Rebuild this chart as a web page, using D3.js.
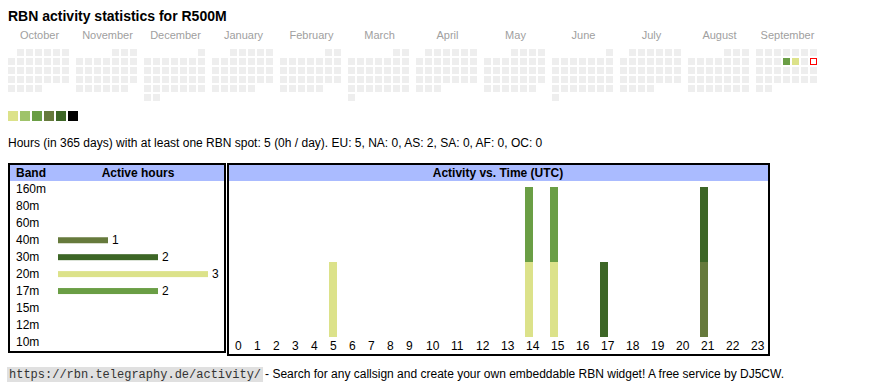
<!DOCTYPE html>
<html>
<head>
<meta charset="utf-8">
<script src="https://cdn.jsdelivr.net/npm/d3@7"></script>
<style>
  body { margin: 0; background: #fff; }
  text { font-family: "Liberation Sans", Arial, sans-serif; }
</style>
</head>
<body>
<div id="chart"></div>
<script>
const TITLE = 'RBN activity statistics for R500M';
const months = ['October', 'November', 'December', 'January', 'February', 'March',
  'April', 'May', 'June', 'July', 'August', 'September'];
const activeDays = ['2025-09-11', '2025-09-12'];
const activeDayHours = [4, 1];
const today = '2025-09-14';
const levelColors = ['#dce28a', '#9fc36a', '#6a9e45', '#667a3c', '#3d6626', '#000000'];
const summary = 'Hours (in 365 days) with at least one RBN spot: 5 (0h / day). EU: 5, NA: 0, AS: 2, SA: 0, AF: 0, OC: 0';

const bands = ['160m', '80m', '60m', '40m', '30m', '20m', '17m', '15m', '12m', '10m'];
const bandHours = [0, 0, 0, 1, 2, 3, 2, 0, 0, 0];
const hourLabels = ['0', '1', '2', '3', '4', '5', '6', '7', '8', '9', '10', '11',
  '12', '13', '14', '15', '16', '17', '18', '19', '20', '21', '22', '23'];
// UTC hours with spots, per band
const hours40m = [21];
const hours30m = [17, 21];
const hours20m = [5, 14, 15];
const hours17m = [14, 15];

const footerUrl = 'https://rbn.telegraphy.de/activity/';
const footerText = '- Search for any callsign and create your own embeddable RBN widget! A free service by DJ5CW.';

const svg = d3.select('#chart').append('svg')
  .attr('width', 870)
  .attr('height', 390);

svg.append('text')
  .attr('x', 8).attr('y', 21)
  .attr('font-size', 14).attr('font-weight', 'bold')
  .text(TITLE);

// ---- calendar ----
const parse = d3.timeParse('%Y-%m-%d');
const start = new Date(2024, 9, 1);
const days = d3.timeDay.range(start, new Date(2025, 9, 1));
const dayHours = new Map(activeDays.map((d, i) => [+parse(d), activeDayHours[i]]));
const todayT = +parse(today);

const monthX = d3.scaleLinear().domain([0, 11]).range([8, 756]);
const colX = d3.scaleLinear().domain([0, 6]).range([0, 54]);
const rowY = d3.scaleLinear().domain([0, 5]).range([49, 94]);
const dayColor = d3.scaleThreshold()
  .domain([1, 2, 3, 5, 9, 17])
  .range(['#eeeeee'].concat(levelColors));

const cal = svg.append('g');
cal.selectAll('text')
  .data(months)
  .enter().append('text')
  .attr('x', (d, i) => monthX(i) + 31.5)
  .attr('y', 39)
  .attr('text-anchor', 'middle')
  .attr('font-size', 11)
  .attr('fill', '#a0a0a0')
  .text(d => d);

cal.selectAll('rect')
  .data(days)
  .enter().append('rect')
  .attr('x', d => monthX(d3.timeMonth.count(start, d)) + colX((d.getDay() + 6) % 7) + (+d === todayT ? 0.5 : 0))
  .attr('y', d => rowY(d3.timeMonday.count(d3.timeMonth(d), d)) + (+d === todayT ? 0.5 : 0))
  .attr('width', d => +d === todayT ? 6 : 7)
  .attr('height', d => +d === todayT ? 6 : 7)
  .attr('fill', d => +d === todayT ? '#fff' : dayColor(dayHours.get(+d) || 0))
  .attr('stroke', d => +d === todayT ? 'red' : 'none');

// legend swatches
const legX = d3.scaleLinear().domain([0, 5]).range([8, 68]);
svg.append('g').selectAll('rect')
  .data(levelColors)
  .enter().append('rect')
  .attr('x', (d, i) => legX(i))
  .attr('y', 111)
  .attr('width', 10).attr('height', 10)
  .attr('fill', d => d);

svg.append('text')
  .attr('x', 8).attr('y', 147)
  .attr('font-size', 12)
  .text(summary);

// ---- band table ----
const bandColor = d3.scaleOrdinal()
  .domain(bands)
  .range(['#9fc36a', '#9fc36a', '#9fc36a', '#667a3c', '#3d6626', '#dce28a', '#6a9e45', '#9fc36a', '#9fc36a', '#9fc36a']);

const left = svg.append('g');
left.append('rect')
  .attr('x', 9).attr('y', 164).attr('width', 216).attr('height', 188)
  .attr('fill', 'none').attr('stroke', '#000').attr('stroke-width', 2);
left.append('rect')
  .attr('x', 10).attr('y', 165).attr('width', 214).attr('height', 16)
  .attr('fill', '#aabbff');
left.append('text')
  .attr('x', 16).attr('y', 177)
  .attr('font-size', 12).attr('font-weight', 'bold')
  .text('Band');
left.append('text')
  .attr('x', 138).attr('y', 177)
  .attr('text-anchor', 'middle')
  .attr('font-size', 12).attr('font-weight', 'bold')
  .text('Active hours');

const bandY = d3.scaleBand().domain(bands).range([181, 350.3]);
const barX = d3.scaleLinear().domain([0, 3]).range([58, 208]);

left.selectAll('.band')
  .data(bands)
  .enter().append('text')
  .attr('class', 'band')
  .attr('x', 16)
  .attr('y', d => bandY(d) + 12.3)
  .attr('font-size', 12)
  .text(d => d);

const bandRows = bands.map((b, i) => ({ band: b, hours: bandHours[i] })).filter(d => d.hours > 0);
left.selectAll('.bar')
  .data(bandRows)
  .enter().append('rect')
  .attr('class', 'bar')
  .attr('x', barX(0))
  .attr('y', d => bandY(d.band) + bandY.bandwidth() / 2 - 3)
  .attr('width', d => barX(d.hours) - barX(0))
  .attr('height', 6)
  .attr('fill', d => bandColor(d.band));
left.selectAll('.val')
  .data(bandRows)
  .enter().append('text')
  .attr('class', 'val')
  .attr('x', d => barX(d.hours) + 4)
  .attr('y', d => bandY(d.band) + 12.3)
  .attr('font-size', 12)
  .text(d => d.hours);

// ---- activity vs time ----
const right = svg.append('g');
right.append('rect')
  .attr('x', 228).attr('y', 164).attr('width', 541).attr('height', 191)
  .attr('fill', 'none').attr('stroke', '#000').attr('stroke-width', 2);
right.append('rect')
  .attr('x', 229).attr('y', 165).attr('width', 539).attr('height', 16)
  .attr('fill', '#aabbff');
right.append('text')
  .attr('x', 498).attr('y', 177)
  .attr('text-anchor', 'middle')
  .attr('font-size', 12).attr('font-weight', 'bold')
  .text('Activity vs. Time (UTC)');

const rows = hourLabels.map((h, i) => {
  const r = { hour: i };
  bands.forEach(b => { r[b] = 0; });
  return r;
});
[['40m', hours40m], ['30m', hours30m], ['20m', hours20m], ['17m', hours17m]]
  .forEach(([b, hs]) => hs.forEach(h => { rows[h][b] += 1; }));

const stacked = d3.stack().keys(bands)(rows);
const hourX = d3.scaleLinear().domain([0, 9, 10, 23]).range([234, 405, 425, 750]);
const yAct = d3.scaleLinear()
  .domain([0, d3.max(rows, r => d3.sum(bands, b => r[b]))])
  .range([337, 187]);

right.selectAll('.layer')
  .data(stacked)
  .enter().append('g')
  .attr('class', 'layer')
  .attr('fill', d => bandColor(d.key))
  .selectAll('rect')
  .data(d => d.filter(s => s[1] > s[0]))
  .enter().append('rect')
  .attr('x', d => hourX(d.data.hour))
  .attr('y', d => yAct(d[1]))
  .attr('width', 8)
  .attr('height', d => yAct(d[0]) - yAct(d[1]));

right.selectAll('.hour')
  .data(hourLabels)
  .enter().append('text')
  .attr('class', 'hour')
  .attr('x', (d, i) => hourX(i) + 1)
  .attr('y', 350)
  .attr('font-size', 12)
  .text(d => d);

// ---- footer ----
const foot = svg.append('g');
const bg = foot.append('rect').attr('fill', '#e0e0e0');
const code = foot.append('text')
  .attr('x', 9).attr('y', 378)
  .attr('font-size', 12)
  .attr('fill', '#333')
  .style('font-family', '"Liberation Mono", monospace')
  .text(footerUrl);
const cw = code.node().getComputedTextLength();
bg.attr('x', 7).attr('y', 367).attr('width', cw + 4).attr('height', 15);
foot.append('text')
  .attr('x', 9 + cw + 4)
  .attr('y', 378)
  .attr('font-size', 12)
  .text(footerText);
</script>
</body>
</html>
